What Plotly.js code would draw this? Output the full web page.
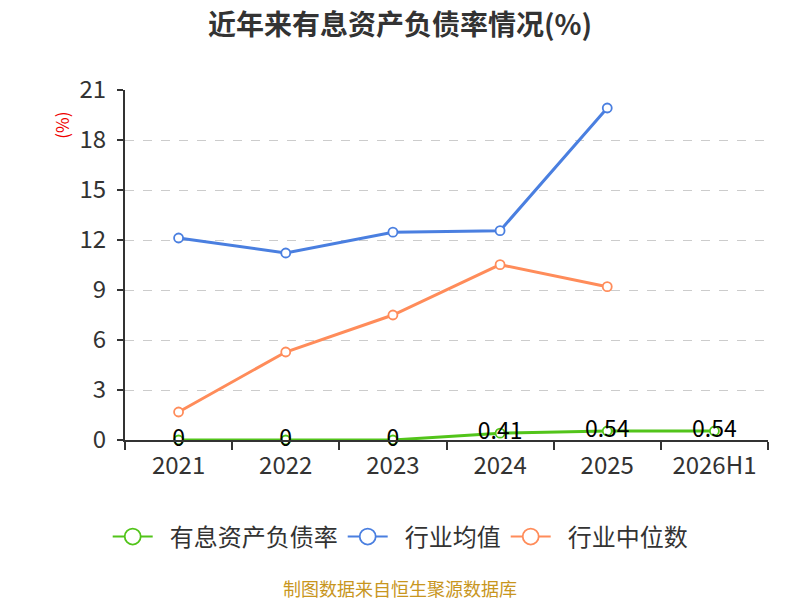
<!DOCTYPE html>
<html>
<head>
<meta charset="utf-8">
<script src="https://cdn.plot.ly/plotly-3.0.1.min.js"></script>
<style>html,body{margin:0;padding:0;background:#fff;}#chart{width:800px;height:600px;}</style>
</head>
<body>
<div id="chart"></div>
<script>
var categories = ["2021", "2022", "2023", "2024", "2025", "2026H1"];
var ratioValues = [0, 0, 0, 0.41, 0.54, 0.54];
var industryAvg = [12.12, 11.22, 12.47, 12.56, 19.92, null];
var industryMedian = [1.68, 5.28, 7.5, 10.52, 9.2, null];
var ratioLabels = ["0", "0", "0", "0.41", "0.54", "0.54"];
var seriesNames = ["有息资产负债率", "行业均值", "行业中位数"];
var yTicks = [0, 3, 6, 9, 12, 15, 18, 21];

var FONT = "'Noto Sans CJK SC', 'Noto Sans', sans-serif";
var colors = ["#52c41a", "#4a7fe0", "#ff8c5a"];

function marker(color, size) {
  return {symbol: "circle", size: size, color: "#fff", line: {width: 1.8, color: color}};
}

var traces = [
  {
    x: categories, y: ratioValues, name: seriesNames[0], type: "scatter",
    mode: "lines+markers+text", text: ratioLabels, textposition: "middle center",
    textfont: {family: FONT, size: 23, color: "#000"},
    line: {color: colors[0], width: 3}, marker: marker(colors[0], 9),
    cliponaxis: false, showlegend: false
  },
  {
    x: categories, y: industryAvg, name: seriesNames[1], type: "scatter", mode: "lines+markers",
    line: {color: colors[1], width: 3}, marker: marker(colors[1], 9),
    cliponaxis: false, showlegend: false
  },
  {
    x: categories, y: industryMedian, name: seriesNames[2], type: "scatter", mode: "lines+markers",
    line: {color: colors[2], width: 3}, marker: marker(colors[2], 9),
    cliponaxis: false, showlegend: false
  }
];
// legend entries (larger symbols, as in the reference legend)
seriesNames.forEach(function (n, i) {
  traces.push({
    x: [null], y: [null], name: "\u2002" + n, type: "scatter", mode: "lines+markers",
    line: {color: colors[i], width: 2}, marker: marker(colors[i], 16), showlegend: true
  });
});

var layout = {
  width: 800, height: 600,
  margin: {l: 125, r: 32, t: 90, b: 160},
  paper_bgcolor: "#fff", plot_bgcolor: "#fff",
  font: {family: FONT, color: "#333"},
  title: {text: "<b>近年来有息资产负债率情况(%)</b>", x: 0.5, xanchor: "center", y: 0.958, yanchor: "middle",
          font: {family: FONT, size: 28, color: "#333"}},
  showlegend: true,
  legend: {orientation: "h", x: 0.428, xanchor: "center", y: -0.277, yanchor: "middle",
           font: {family: FONT, size: 24, color: "#333"}, itemwidth: 40},
  xaxis: {
    type: "category", range: [-0.5, 5.5], tickson: "boundaries",
    showline: true, linecolor: "#333", linewidth: 2,
    ticks: "outside", ticklen: 8, tickcolor: "#333", tickwidth: 2,
    showgrid: false, zeroline: false, ticklabelstandoff: 3,
    tickfont: {family: FONT, size: 24, color: "#333"}
  },
  yaxis: {
    range: [0, 21], tickvals: yTicks, ticktext: yTicks.map(String),
    showline: true, linecolor: "#333", linewidth: 2,
    ticks: "outside", ticklen: 6, tickcolor: "#333", tickwidth: 2,
    showgrid: true, gridcolor: "#cccccc", griddash: "dash", gridwidth: 1.2,
    zeroline: false, ticklabelstandoff: 6,
    tickfont: {family: FONT, size: 24, color: "#333"}
  },
  annotations: [
    {text: "(%)", xref: "paper", yref: "paper", x: -0.1, y: 0.9, textangle: -90,
     xanchor: "center", yanchor: "middle",
     showarrow: false, font: {family: FONT, size: 17, color: "#ee0000"}},
    {text: "制图数据来自恒生聚源数据库", xref: "paper", yref: "paper", x: 0.428, y: -0.423,
     xanchor: "center", yanchor: "middle", showarrow: false,
     font: {family: FONT, size: 18, color: "#c8961e"}}
  ]
};

Plotly.newPlot("chart", traces, layout, {displayModeBar: false});
</script>
</body>
</html>
